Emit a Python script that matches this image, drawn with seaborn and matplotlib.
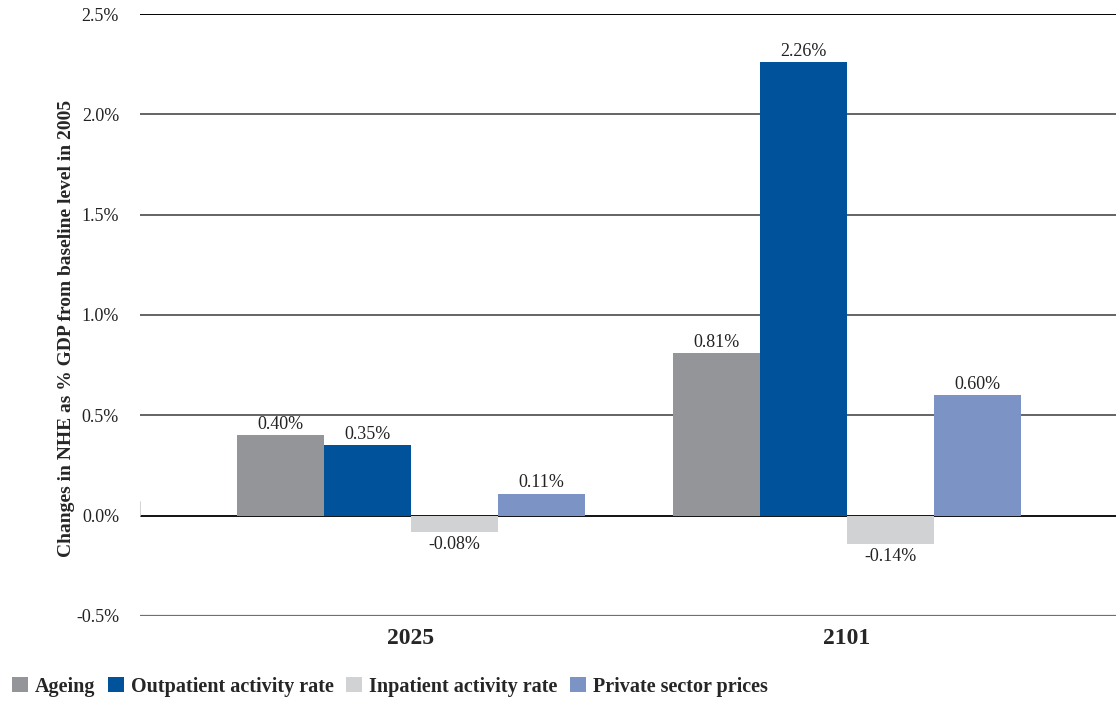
import pandas as pd
import matplotlib
matplotlib.use("Agg")
import matplotlib.pyplot as plt
import seaborn as sns
from matplotlib.patches import Patch

# ==========================================
# DATA
# ==========================================

years = ["2025", "2101"]
drivers = ["Ageing", "Outpatient activity rate", "Inpatient activity rate", "Private sector prices"]
ageing = [0.0040, 0.0081]
outpatient = [0.0035, 0.0226]
inpatient = [-0.0008, -0.0014]
private_prices = [0.0011, 0.0060]
y_ticks = [-0.005, 0.0, 0.005, 0.010, 0.015, 0.020, 0.025]
y_label = "Changes in NHE as % GDP from baseline level in 2005"

colors = ["#939598", "#00529B", "#D1D2D4", "#7B93C5"]

rows = []
for name, vals in zip(drivers, [ageing, outpatient, inpatient, private_prices]):
    for yr, v in zip(years, vals):
        rows.append({"Year": yr, "Driver": name, "Value": v})
df = pd.DataFrame(rows)

# ==========================================
# PLOT
# ==========================================

sns.set_theme(style="white")
plt.rcParams["font.family"] = ["Liberation Serif", "DejaVu Serif"]

fig = plt.figure(figsize=(11.16, 7.01), dpi=100)
ax = fig.add_axes([0.1254, 0.1213, 0.8746, 0.8587])

for t in y_ticks:
    if t == 0:
        c, lw = "#000000", 1.3
    elif t == 0.025:
        c, lw = "#000000", 1.4
    elif t == -0.005:
        c, lw = "#707070", 1.6
    else:
        c, lw = "#4a4a4a", 1.2
    ax.axhline(t, color=c, lw=lw, zorder=0)

sns.barplot(data=df, x="Year", y="Value", hue="Driver", hue_order=drivers,
            palette=colors, width=0.8, saturation=1, errorbar=None,
            linewidth=0, edgecolor="none", ax=ax, legend=False, zorder=2)

for cont in ax.containers:
    for bar in cont:
        h = bar.get_height()
        xc = bar.get_x() + bar.get_width() / 2
        if h >= 0:
            ax.annotate(f"{h*100:.2f}%", (xc, h), xytext=(0, 1.5), textcoords="offset points",
                        ha="center", va="bottom", fontsize=13, color="#222222")
        else:
            ax.annotate(f"{h*100:.2f}%", (xc, h), xytext=(0, -3), textcoords="offset points",
                        ha="center", va="top", fontsize=13, color="#222222")

ax.set_xlim(-0.6216, 1.617)
ax.set_ylim(-0.005, 0.025)
ax.set_yticks(y_ticks)
ax.set_yticklabels([f"{t*100:.1f}%" for t in y_ticks], fontsize=13, color="#222222")
ax.tick_params(axis="y", length=0, pad=15)
ax.tick_params(axis="x", length=0, pad=9)
for lbl in ax.get_xticklabels():
    lbl.set_fontsize(17)
    lbl.set_fontweight("bold")
ax.set_xlabel("")
ax.set_ylabel(y_label, fontsize=14, fontweight="bold", labelpad=6)
ax.yaxis.set_label_coords(-0.067, 0.478)
for s in ax.spines.values():
    s.set_visible(False)

# small light tick at the left end of the zero line
ax.plot([-0.6216, -0.6216], [0.0, 0.0007], color="#cccccc", lw=1.2, zorder=1)

handles = [Patch(facecolor=c, edgecolor="none") for c in colors]
fig.legend(handles, drivers, loc="lower left", bbox_to_anchor=(0.0, -0.011), ncol=4,
           frameon=False, prop={"weight": "bold", "size": 14.5},
           handlelength=0.8, handleheight=0.8, handletextpad=0.35, columnspacing=0.6,
           borderaxespad=0.2)

fig.savefig("out.png", dpi=100)
